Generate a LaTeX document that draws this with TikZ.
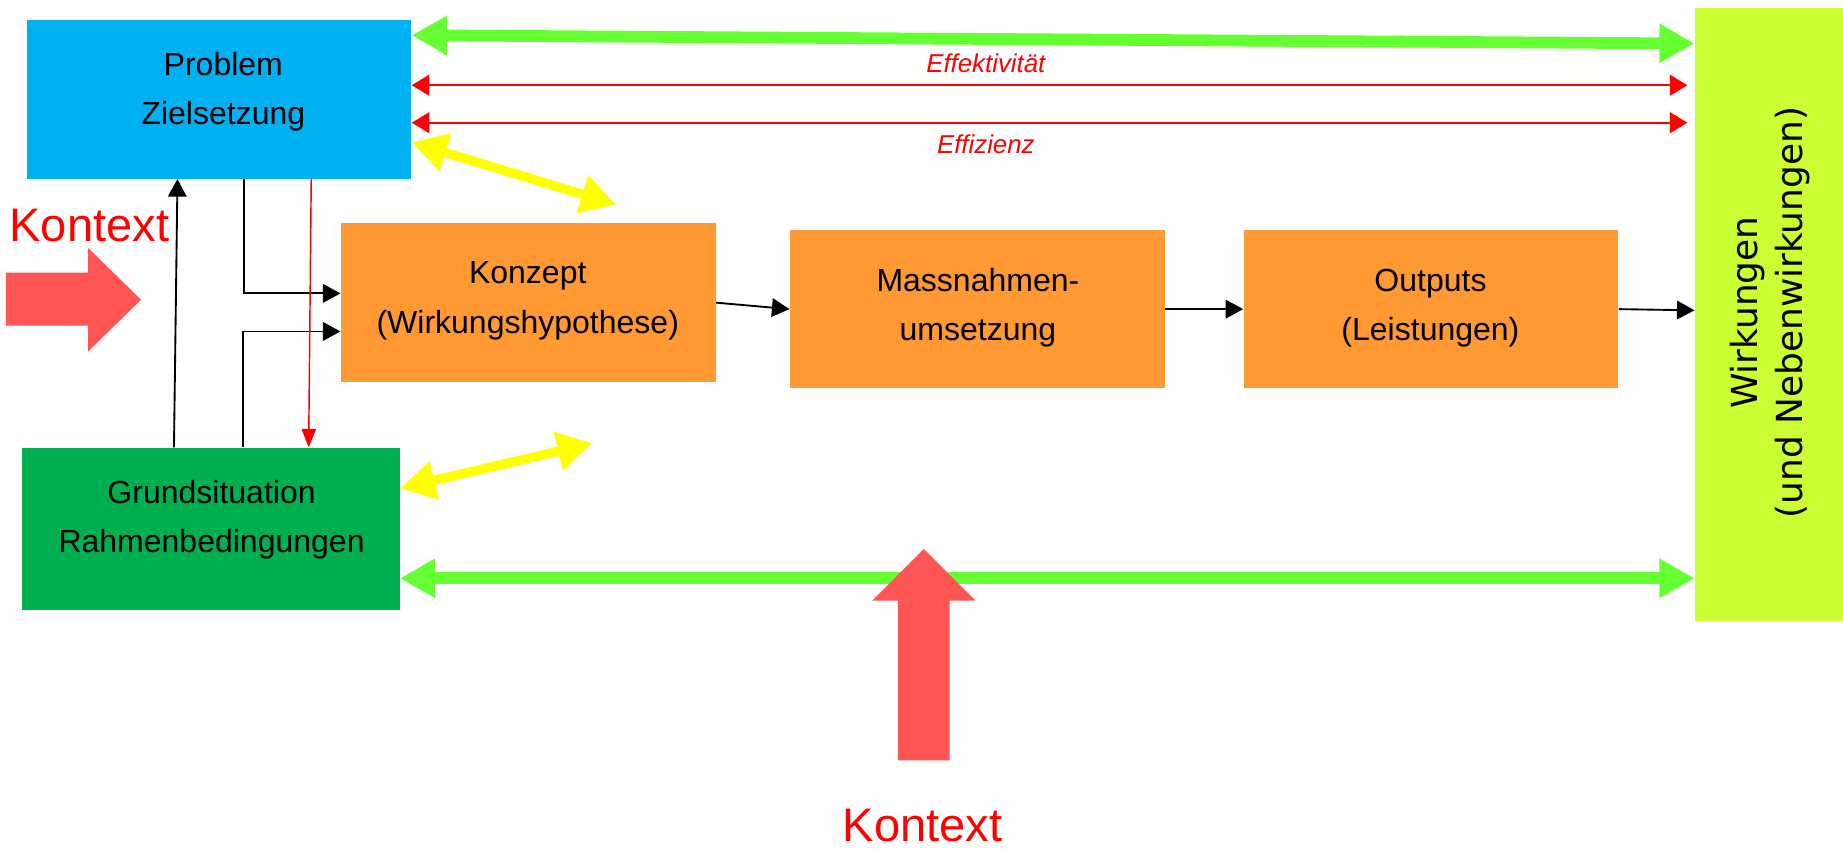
\documentclass[tikz,border=0pt]{standalone}
\usepackage{fontspec}
\setmainfont{Liberation Sans}
\newfontfamily\dejavu{DejaVu Sans}
\usetikzlibrary{arrows.meta}
\definecolor{cblue}{HTML}{00B0F0}
\definecolor{cgreen}{HTML}{00B050}
\definecolor{corange}{HTML}{FF9933}
\definecolor{clime}{HTML}{CCFF33}
\definecolor{cgarrow}{HTML}{66FF33}
\definecolor{cyellow}{HTML}{FFFF00}
\definecolor{cred}{HTML}{FF0000}
\definecolor{cblock}{HTML}{FF5555}
\begin{document}
\begin{tikzpicture}[x=0.02cm,y=-0.02cm,
  box/.style={rectangle, inner sep=0pt, draw=none},
  btext/.style={align=center, inner sep=0pt, font=\fontsize{15.5}{23.9}\selectfont},
  garrow/.style={draw=cgarrow, line width=5.7pt, {Triangle[length=17pt,width=18pt]}-{Triangle[length=17pt,width=18pt]}},
  yarrow/.style={draw=cyellow, line width=4.5pt, {Triangle[length=17pt,width=18pt]}-{Triangle[length=17pt,width=18pt]}},
  rarrow/.style={draw=cred, line width=1.1pt, {Triangle[length=8.5pt,width=10pt]}-{Triangle[length=8.5pt,width=10pt]}},
  barrow/.style={draw=black, line width=0.9pt, -{Triangle[length=8.5pt,width=9pt]}},
  rline/.style={draw=cred, line width=0.7pt, -{Triangle[length=9pt,width=7pt]}},
  lbl/.style={text=cred, font=\fontsize{12.5}{14}\selectfont\itshape, inner sep=0pt},
  ktext/.style={text=cred, font=\fontsize{22.8}{26}\selectfont, inner sep=0pt},
  block/.style={fill=cblock, draw=none}
]
\useasboundingbox (0,0) rectangle (1568,724);

% boxes
\node[box, fill=cblue, minimum width=6.54cm, minimum height=2.70cm] (prob) at (186.5,84.5) {};
\node[box, fill=cgreen, minimum width=6.42cm, minimum height=2.76cm] (grund) at (179.5,450) {};
\node[box, fill=corange, minimum width=6.38cm, minimum height=2.70cm] (konz) at (449.5,257.5) {};
\node[box, fill=corange, minimum width=6.38cm, minimum height=2.68cm] (mass) at (831.5,263) {};
\node[box, fill=corange, minimum width=6.38cm, minimum height=2.68cm] (outp) at (1217.5,263) {};
\node[box, fill=clime, minimum width=2.52cm, minimum height=10.42cm] (wirk) at (1505,267.5) {};

% box texts
\node[btext] (probt) at (190,78) {Problem\\Zielsetzung};
\node[btext] (grundt) at (180,442) {Grundsituation\\Rahmenbedingungen};
\node[btext] (konzt) at (449,256) {Konzept\\(Wirkungshypothese)};
\node[btext] (masst) at (832,262) {Massnahmen-\\umsetzung};
\node[btext] (outpt) at (1217,262) {Outputs\\(Leistungen)};
\node[align=center, inner sep=0pt, rotate=90, font=\dejavu\fontsize{17.4}{21.5}\selectfont] (wirkt) at (1506,266) {Wirkungen\\(und Nebenwirkungen)};

% green double arrows
\draw[garrow] (prob.east |- 0,30) -- (wirk.west |- 0,37);
\draw[garrow] (grund.east |- 0,492) -- (wirk.west |- 0,492);

% red double arrows with labels
\draw[rarrow] (prob.east |- 0,72.5) -- ([xshift=-0.12cm]wirk.west |- 0,72.5)
  node[lbl, pos=0.45, yshift=10.4pt] (effk) {Effektivität};
\draw[rarrow] (prob.east |- 0,104.4) -- ([xshift=-0.12cm]wirk.west |- 0,104.4)
  node[lbl, pos=0.45, yshift=-10.4pt] (effz) {Effizienz};

% yellow double arrows
\coordinate (ytop) at (524,174);
\coordinate (ybot) at (504,377);
\draw[yarrow] (prob.east |- 0,121) -- (ytop);
\draw[yarrow] (grund.east |- 0,415.5) -- (ybot);

% black connectors
\draw[barrow] (grund.north -| 148,0) -- (prob.south -| 151,0);
\draw[barrow] (prob.south -| 207.8,0) |- (konz.west |- 0,249.6);
\draw[barrow] (grund.north -| 207,0) |- (konz.west |- 0,282);
\draw[rline] (prob.south -| 264.8,0) -- (grund.north -| 262.6,0);

\draw[barrow] (konz.east) -- (mass.west);
\draw[barrow] (mass.east) -- (outp.west);
\draw[barrow] (outp.east) -- (wirk.west |- 0,264);

% context block arrows
\path[block] (5,232) -- (75,232) -- (75,211) -- (120,255) -- (75,299) -- (75,277) -- (5,277) -- cycle;
\path[block] (764,647) -- (764,511) -- (742,511) -- (786,467) -- (830,511) -- (808,511) -- (808,647) -- cycle;

\node[ktext] (kl) at (76,192) {Kontext};
\node[ktext] (kb) at (785,702) {Kontext};
\end{tikzpicture}
\end{document}
